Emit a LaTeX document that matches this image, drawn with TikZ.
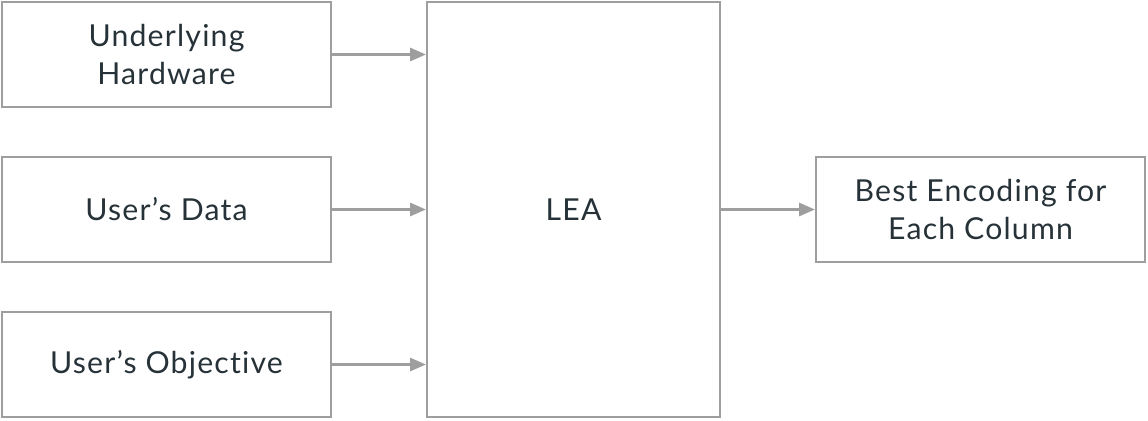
\documentclass[tikz,border=0pt]{standalone}
\usepackage{fontspec}
\setmainfont{Lato}[Ligatures=NoCommon, LetterSpace=4]
\usetikzlibrary{arrows.meta}
\definecolor{boxgray}{HTML}{9E9E9E}
\definecolor{textgray}{HTML}{263238}
\tikzset{
    block/.style={draw=boxgray, line width=1.3pt, minimum width=6.58cm, minimum height=2.1cm,
        align=center, text=textgray, font=\fontsize{17.2}{21.8}\selectfont},
    feed/.style={draw=boxgray, line width=1.3pt, -{Triangle[length=9pt,width=7.5pt]}}
}
\begin{document}
\begin{tikzpicture}[x=0.02cm,y=-0.02cm]
        \useasboundingbox (0,0) rectangle (1148,420);
        \node[block] (hw) at (166.5,54.5) {Underlying\\Hardware};
        \node[block] (data) at (166.5,209.5) {User’s Data};
        \node[block] (obj) at (166.5,364.5) {User’s Objective};
        \node[block, minimum width=5.86cm, minimum height=8.3cm] (lea) at (573.5,209.5) {LEA};
        \node[block] (best) at (980.5,209.5) {Best Encoding for\\Each Column};
        % inputs into LEA
        \draw[feed] (hw.east) -- (hw.east -| lea.west);
        \draw[feed] (data.east) -- (data.east -| lea.west);
        \draw[feed] (obj.east) -- (obj.east -| lea.west);
        \draw[feed] (lea.east |- best.west) -- (best.west);
    \end{tikzpicture}
\end{document}
